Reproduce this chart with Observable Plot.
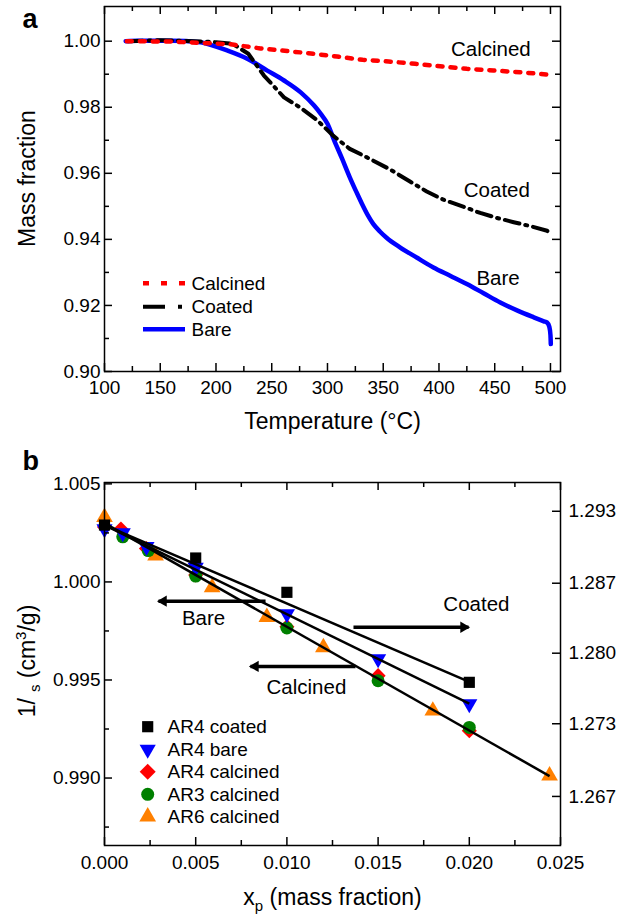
<!DOCTYPE html>
<html><head><meta charset="utf-8">
<script src="https://cdn.jsdelivr.net/npm/d3@7"></script>
<script src="https://cdn.jsdelivr.net/npm/@observablehq/plot@0.6"></script>
<style>
html,body{margin:0;padding:0;background:#fff;}
#wrap{position:relative;width:619px;height:916px;font-family:"Liberation Sans",Arial,sans-serif;}
#wrap svg{display:block;}
#legend{position:absolute;left:0;top:0;pointer-events:none;}
</style></head><body><div id="wrap"></div>
<script>
// ---------- Panel a data (TGA) ----------
const calcinedT = [120, 160, 190, 212, 240, 255, 283, 308.5, 331.5, 354.8, 378.7, 401, 425, 448.8, 472.8, 496.7, 500];
const calcinedM = [1.0000, 0.9999, 0.9994, 0.9991, 0.9978, 0.9973, 0.99636, 0.99536, 0.99436, 0.99385, 0.99315, 0.99242, 0.99164, 0.99112, 0.99061, 0.98991, 0.98839];
const coatedT = [121, 150, 180, 200, 215, 229, 243, 261, 276, 291, 305, 320, 335, 356, 374, 389, 404, 425, 437, 452, 467, 482, 497, 500];
const coatedM = [1.0000, 1.0003, 1.0000, 0.9997, 0.9992, 0.9962, 0.9896, 0.9830, 0.9798, 0.9760, 0.9714, 0.9674, 0.9649, 0.9612, 0.9575, 0.9545, 0.9520, 0.9495, 0.9480, 0.9465, 0.9452, 0.9440, 0.9426, 0.9416];
const bareT = [119, 130, 160, 186, 192, 210, 228, 246, 261, 276, 288, 294, 300, 306, 313, 320, 326, 331, 336, 341, 347, 353, 365, 380, 395, 410, 425, 440, 455, 470, 485, 494, 497, 499, 500, 500.3];
const bareM = [1.0000, 1.0001, 1.0001, 0.9997, 0.9992, 0.9972, 0.9947, 0.9911, 0.9881, 0.9845, 0.9805, 0.9780, 0.9750, 0.9700, 0.9645, 0.9588, 0.9543, 0.9507, 0.9474, 0.9447, 0.9424, 0.9405, 0.9376, 0.9345, 0.9315, 0.9290, 0.9265, 0.9237, 0.9209, 0.9185, 0.9164, 0.9152, 0.9148, 0.9135, 0.9110, 0.9083];
const aLabelText = ["Calcined", "Coated", "Bare"];
const aLabelT = [446.5, 451.9, 453];
const aLabelM = [0.9974, 0.95476, 0.9283];
const aTempTicks = [100, 150, 200, 250, 300, 350, 400, 450, 500];
const aTempMinor = [125, 175, 225, 275, 325, 375, 425, 475];
const aMassTicks = [0.90, 0.92, 0.94, 0.96, 0.98, 1.00];
const aMassMinor = [0.91, 0.93, 0.95, 0.97, 0.99];

// ---------- Panel b data ----------
const ar4CoatedX = [0, 0.005, 0.010, 0.020];
const ar4CoatedY = [1.00290, 1.00122, 0.99947, 0.99488];
const ar4BareX = [0, 0.001, 0.0023, 0.005, 0.010, 0.015, 0.020];
const ar4BareY = [1.0027, 1.0025, 1.0018, 1.00074, 0.99837, 0.99607, 0.99378];
const ar4CalcX = [0, 0.0009, 0.0023, 0.005, 0.010, 0.015, 0.020];
const ar4CalcY = [1.0028, 1.0027, 1.0017, 1.00035, 0.99772, 0.99522, 0.99241];
const ar3CalcX = [0.001, 0.0024, 0.005, 0.010, 0.015, 0.020];
const ar3CalcY = [1.0023, 1.0016, 1.0003, 0.99765, 0.99496, 0.99258];
const ar6CalcX = [0, 0.0028, 0.0059, 0.0089, 0.0120, 0.0180, 0.0244];
const ar6CalcY = [1.0033, 1.00134, 0.99972, 0.9982, 0.99666, 0.99343, 0.99012];
// linear fits (end points)
const fitName = ["Coated", "Bare", "Calcined"];
const fitX1 = [0, 0, 0];
const fitY1 = [1.0029, 1.0029, 1.0030];
const fitX2 = [0.020, 0.020, 0.0244];
const fitY2 = [0.9949, 0.9938, 0.9901];
// arrows pointing to axes
const arrowName = ["Bare", "Calcined", "Coated"];
const arrowX1 = [0.00883, 0.01376, 0.01365];
const arrowX2 = [0.00296, 0.0080, 0.01996];
const arrowY = [0.99902, 0.99569, 0.99769];
const arrowDir = [-1, -1, 1];
const bLabelText = ["Bare", "Calcined", "Coated"];
const bLabelX = [0.00543, 0.01107, 0.02039];
const bLabelY = [0.99813, 0.99462, 0.99884];
const bXTicks = [0, 0.005, 0.010, 0.015, 0.020, 0.025];
const bXMinor = [0.0025, 0.0075, 0.0125, 0.0175, 0.0225];
const bYTicks = [0.990, 0.995, 1.000, 1.005];
const bYMinor = [0.9875, 0.9925, 0.9975, 1.0025];
const bRightTickPos = [1.003603, 0.999934, 0.996366, 0.992768, 0.989062];
const bRightTickLabels = ["1.293", "1.287", "1.280", "1.273", "1.267"];

// legends
const aLegendNames = ["Calcined", "Coated", "Bare"];
const bLegendNames = ["AR4 coated", "AR4 bare", "AR4 calcined", "AR3 calcined", "AR6 calcined"];

const FONT = '"Liberation Sans", Arial, sans-serif';
const zipRows = (xs, ys, kx, ky) => xs.map((v, i) => ({[kx]: v, [ky]: ys[i]}));

const wrap = document.getElementById("wrap");
const TW = 1.5, MAJ = 8, MIN = 5;
const W = 619, ML = 104, MR = 59, FW = W - ML - MR;

// inward ticks drawn as short rules hugging the frame
const tickBottom = (ticks, len, FH) => Plot.ruleX(ticks, {x: d => d, insetTop: FH - len, stroke: "#000", strokeWidth: TW});
const tickTop = (ticks, len, FH) => Plot.ruleX(ticks, {x: d => d, insetBottom: FH - len, stroke: "#000", strokeWidth: TW});
const tickLeft = (ticks, len) => Plot.ruleY(ticks, {y: d => d, insetRight: FW - len, stroke: "#000", strokeWidth: TW});
const tickRight = (ticks, len) => Plot.ruleY(ticks, {y: d => d, insetLeft: FW - len, stroke: "#000", strokeWidth: TW});

// ---------------- Panel a ----------------
const HA = 440, MTA = 6, MBA = 69, FHA = HA - MTA - MBA;
const pa = Plot.plot({
  width: W, height: HA,
  marginLeft: ML, marginRight: MR, marginTop: MTA, marginBottom: MBA,
  style: {fontFamily: FONT, fontSize: "19px", color: "#000", background: "#fff"},
  x: {domain: [100, 509]},
  y: {domain: [0.90, 1.0105]},
  marks: [
    Plot.line(zipRows(bareT, bareM, "T", "m"), {x: "T", y: "m", stroke: "#0000ff", strokeWidth: 4.5, curve: "monotone-x"}),
    Plot.line(zipRows(coatedT, coatedM, "T", "m"), {x: "T", y: "m", stroke: "#000", strokeWidth: 4, strokeDasharray: "15,6,2,6"}),
    Plot.line(zipRows(calcinedT, calcinedM, "T", "m"), {x: "T", y: "m", stroke: "#ff0000", strokeWidth: 4.5, strokeDasharray: "5,8"}),
    Plot.frame({stroke: "#000", strokeWidth: 1.5}),
    Plot.axisX({anchor: "bottom", ticks: aTempTicks, tickSize: 0, tickPadding: 9, tickFormat: d3.format("d"), label: null, fontSize: 19}),
    Plot.axisY({anchor: "left", ticks: aMassTicks, tickSize: 0, tickPadding: 4, tickFormat: d3.format(".2f"), label: null, fontSize: 19}),
    tickBottom(aTempTicks, MAJ, FHA), tickBottom(aTempMinor, MIN, FHA),
    tickTop(aTempTicks, MAJ, FHA), tickTop(aTempMinor, MIN, FHA),
    tickLeft(aMassTicks, MAJ), tickLeft(aMassMinor, MIN),
    tickRight(aMassTicks, MAJ), tickRight(aMassMinor, MIN),
    Plot.text(aLabelText, {x: (d, i) => aLabelT[i], y: (d, i) => aLabelM[i], text: d => d, fontSize: 20.5, fill: "#000"}),
    Plot.text(["Temperature (°C)"], {text: d => d, frameAnchor: "bottom", dy: 50, textAnchor: "middle", lineAnchor: "middle", fontSize: 23, fill: "#000"}),
    Plot.text(["Mass fraction"], {text: d => d, frameAnchor: "left", dx: -77, dy: -10.5, rotate: -90, textAnchor: "middle", lineAnchor: "middle", fontSize: 23, fill: "#000"}),
    Plot.text(["a"], {text: d => d, frameAnchor: "top-left", dx: -82, dy: 2, textAnchor: "start", lineAnchor: "top", fontSize: 27, fontWeight: "bold", fill: "#000"})
  ]
});
wrap.appendChild(pa);

// ---------------- Panel b ----------------
const HB = 476, MTB = 42, MBB = 71, FHB = HB - MTB - MBB;
const fits = fitName.map((n, i) => ({n, x1: fitX1[i], y1: fitY1[i], x2: fitX2[i], y2: fitY2[i]}));
const arrows = arrowName.map((n, i) => ({n, x1: arrowX1[i], x2: arrowX2[i], y: arrowY[i], dir: arrowDir[i]}));
const pb = Plot.plot({
  width: W, height: HB,
  marginLeft: ML, marginRight: MR, marginTop: MTB, marginBottom: MBB,
  style: {fontFamily: FONT, fontSize: "19px", color: "#000", background: "#fff"},
  x: {domain: [0, 0.025]},
  y: {domain: [0.98656, 1.00507]},
  marks: [
    Plot.dot(zipRows(ar6CalcX, ar6CalcY, "x", "y"), {x: "x", y: "y", symbol: "triangle", r: 6.2, fill: "#ff8000", stroke: "none"}),
    Plot.dot(zipRows(ar4CalcX, ar4CalcY, "x", "y"), {x: "x", y: "y", symbol: "diamond2", r: 6.8, fill: "#ff0000", stroke: "none"}),
    Plot.dot(zipRows(ar3CalcX, ar3CalcY, "x", "y"), {x: "x", y: "y", symbol: "circle", r: 6.5, fill: "#008000", stroke: "none"}),
    Plot.dot(zipRows(ar4BareX, ar4BareY, "x", "y"), {x: "x", y: "y", symbol: "triangle", rotate: 180, r: 6, fill: "#0000ff", stroke: "none"}),
    Plot.dot(zipRows(ar4CoatedX, ar4CoatedY, "x", "y"), {x: "x", y: "y", symbol: "square", r: 6.3, fill: "#000", stroke: "none"}),
    Plot.link(fits, {x1: "x1", y1: "y1", x2: "x2", y2: "y2", stroke: "#000", strokeWidth: 2.5}),
    Plot.link(arrows, {x1: "x1", y1: "y", x2: "x2", y2: "y", stroke: "#000", strokeWidth: 3.5}),
    Plot.dot(arrows.filter(a => a.dir < 0), {x: "x2", y: "y", symbol: "triangle", rotate: -90, r: 4.2, fill: "#000", stroke: "none", dx: 5}),
    Plot.dot(arrows.filter(a => a.dir > 0), {x: "x2", y: "y", symbol: "triangle", rotate: 90, r: 4.2, fill: "#000", stroke: "none", dx: -5}),
    Plot.text(bLabelText, {x: (d, i) => bLabelX[i], y: (d, i) => bLabelY[i], text: d => d, fontSize: 20.5, fill: "#000"}),
    Plot.frame({stroke: "#000", strokeWidth: 1.5}),
    Plot.axisX({anchor: "bottom", ticks: bXTicks, tickSize: 0, tickPadding: 10, tickFormat: d3.format(".3f"), label: null, fontSize: 19}),
    Plot.axisY({anchor: "left", ticks: bYTicks, tickSize: 0, tickPadding: 4, tickFormat: d3.format(".3f"), label: null, fontSize: 19}),
    Plot.axisY({anchor: "right", ticks: bRightTickPos, tickSize: 0, tickPadding: 8, tickFormat: (d, i) => bRightTickLabels[i], label: null, fontSize: 19}),
    tickBottom(bXTicks, MAJ, FHB), tickBottom(bXMinor, MIN, FHB),
    tickTop(bXTicks, MAJ, FHB), tickTop(bXMinor, MIN, FHB),
    tickLeft(bYTicks, MAJ), tickLeft(bYMinor, MIN),
    tickRight(bRightTickPos, MAJ),
    Plot.text(["x_p (mass fraction)"], {text: d => d, frameAnchor: "bottom", dy: 52.6, textAnchor: "middle", lineAnchor: "middle", fontSize: 23, fill: "#000"}),
    Plot.text(["1/ s (cm3/g)"], {text: d => d, frameAnchor: "left", dx: -77, dy: -3, rotate: -90, textAnchor: "middle", lineAnchor: "middle", fontSize: 23, fill: "#000"}),
    Plot.text(["b"], {text: d => d, frameAnchor: "top-left", dx: -82, dy: -32, textAnchor: "start", lineAnchor: "top", fontSize: 27, fontWeight: "bold", fill: "#000"})
  ]
});
wrap.appendChild(pb);

// rich text (sub/superscripts)
const NS = "http://www.w3.org/2000/svg";
function richText(svg, plain, parts) {
  svg.querySelectorAll("text").forEach(t => {
    if (t.textContent === plain) {
      while (t.firstChild) t.removeChild(t.firstChild);
      for (const p of parts) {
        const ts = document.createElementNS(NS, "tspan");
        ts.textContent = p.t;
        if (p.dx != null) ts.setAttribute("dx", p.dx);
        if (p.dy != null) ts.setAttribute("dy", p.dy);
        if (p.fs) ts.setAttribute("font-size", p.fs);
        t.appendChild(ts);
      }
    }
  });
}
richText(pb, "x_p (mass fraction)", [{t: "x"}, {t: "p", dy: 6, fs: 15}, {t: " (mass fraction)", dy: -6}]);
richText(pb, "1/ s (cm3/g)", [{t: "1/"}, {t: "s", dx: 6, dy: 5, fs: 15}, {t: " (cm", dy: -5}, {t: "3", dy: -9, fs: 15}, {t: "/g)", dy: 9}]);

// ---------------- Legends (overlay) ----------------
const lg = d3.select(wrap).append("svg").attr("id", "legend").attr("width", 619).attr("height", 916)
  .style("font-family", FONT).style("font-size", "19px");
const aLegStyles = [
  {stroke: "#ff0000", w: 4.5, dash: "6,12"},
  {stroke: "#000", w: 4, dash: "22,13,4,40"},
  {stroke: "#0000ff", w: 4.5, dash: null}
];
const aLegY = [283.3, 306.7, 329.3];
aLegendNames.forEach((n, i) => {
  const s = aLegStyles[i];
  const ln = lg.append("line").attr("x1", 143).attr("x2", 185).attr("y1", aLegY[i]).attr("y2", aLegY[i])
    .attr("stroke", s.stroke).attr("stroke-width", s.w);
  if (s.dash) ln.attr("stroke-dasharray", s.dash);
  lg.append("text").attr("x", 191.5).attr("y", aLegY[i]).attr("dy", "0.35em").text(n);
});
const bLegSym = [
  {sym: d3.symbolSquare, r: 6.3, fill: "#000", rot: 0},
  {sym: d3.symbolTriangle, r: 6, fill: "#0000ff", rot: 180},
  {sym: d3.symbolDiamond2, r: 7.2, fill: "#ff0000", rot: 0},
  {sym: d3.symbolCircle, r: 6.5, fill: "#008000", rot: 0},
  {sym: d3.symbolTriangle, r: 6.2, fill: "#ff8000", rot: 0}
];
const bLegY = [726.7, 749.3, 771.7, 794.3, 816.7];
bLegendNames.forEach((n, i) => {
  const s = bLegSym[i];
  lg.append("path").attr("d", d3.symbol(s.sym, Math.PI * s.r * s.r)())
    .attr("transform", `translate(147.7,${bLegY[i]}) rotate(${s.rot})`).attr("fill", s.fill);
  lg.append("text").attr("x", 167.5).attr("y", bLegY[i]).attr("dy", "0.35em").text(n);
});
</script>
</body></html>
